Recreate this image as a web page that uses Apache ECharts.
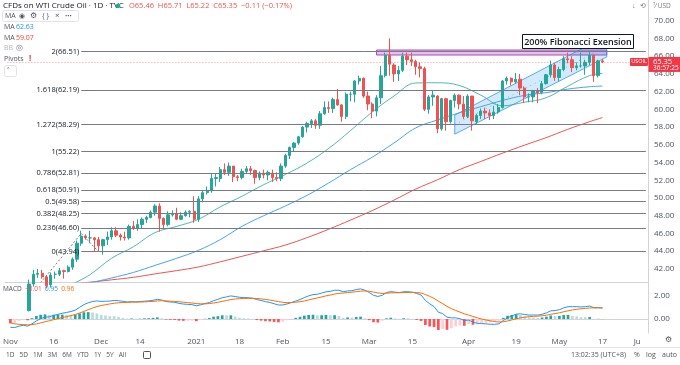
<!DOCTYPE html>
<html><head><meta charset="utf-8">
<script src="https://cdn.jsdelivr.net/npm/echarts@6/dist/echarts.min.js"></script>
<style>html,body{margin:0;padding:0;background:#fff}#c{width:680px;height:365px}</style>
</head><body><div id="c"></div><script>
// ---------- data ----------
const startDate = '2020-11-02';
const noBarDays = ['2020-12-25','2021-01-01','2021-04-02'];
const totalSlots = 148;
// [open, high, low, close]
const ohlc = [
[35.6,37.3,33.6,36.8],[36.9,38.2,36.5,37.7],[37.7,39.8,37.3,39.2],[39.0,39.1,38.0,38.8],[38.7,38.8,36.9,37.1],
[37.3,40.8,37.2,40.3],[40.3,41.9,40.0,41.4],[41.4,42.0,41.0,41.5],[41.5,41.9,40.9,41.1],[41.1,41.3,39.8,40.1],
[40.2,41.6,39.9,41.3],[41.4,41.7,40.9,41.4],[41.4,42.1,41.2,41.8],[41.8,41.9,40.9,41.7],[41.7,42.4,41.6,42.2],
[42.2,43.3,41.9,43.1],[43.1,45.2,42.8,44.9],[44.9,46.3,44.6,45.7],[45.7,45.9,45.3,45.5],[45.5,46.3,44.9,45.5],
[45.5,45.6,43.9,45.3],[45.3,45.6,43.9,44.6],[44.6,45.4,43.6,45.3],[45.3,46.2,44.7,45.6],[45.6,46.7,45.3,46.3],
[46.3,46.7,45.6,45.8],[45.8,46.0,45.2,45.6],[45.6,46.2,45.2,45.5],[45.5,47.0,45.3,46.8],[46.8,47.4,46.4,46.6],
[46.6,47.6,46.3,47.0],[47.0,47.8,46.6,47.6],[47.6,48.0,47.2,47.8],[47.8,48.6,47.7,48.4],[48.4,49.3,48.0,49.1],
[49.1,49.4,46.2,47.7],[47.7,47.8,46.6,47.0],[47.0,48.5,46.8,48.1],[48.1,48.6,47.9,48.2],
[48.2,48.9,47.5,47.6],[47.6,48.4,47.5,48.0],[48.0,48.6,47.9,48.4],[48.4,48.6,47.8,48.5],
[48.5,50.2,47.2,47.6],[47.6,50.2,47.3,49.9],[49.9,50.9,49.5,50.6],[50.6,51.3,50.4,50.8],[50.8,52.7,50.6,52.2],
[52.2,52.7,51.3,52.3],[52.2,53.5,51.8,53.2],[53.2,53.9,52.6,52.9],[52.9,54.0,52.5,53.6],[53.6,53.6,51.8,52.4],
[52.4,52.6,51.9,52.3],[52.3,53.3,52.1,53.0],[53.0,53.6,52.7,53.3],[53.3,53.6,52.6,53.1],[53.1,53.2,51.6,52.3],
[52.3,53.0,52.0,52.8],[52.8,53.2,52.2,52.6],[52.6,53.1,52.0,52.9],[52.8,53.2,51.8,52.3],[52.3,52.9,51.9,52.2],
[52.2,53.9,51.9,53.6],[53.6,55.0,53.4,54.8],[54.8,55.8,54.4,55.7],[55.7,56.3,55.2,56.2],[56.2,57.0,56.0,56.9],
[56.9,58.1,56.8,58.0],[58.0,58.6,57.4,58.4],[58.4,58.9,57.9,58.7],[58.7,58.9,57.8,58.2],[58.2,59.8,57.8,59.5],
[59.5,60.9,59.4,60.2],[60.2,60.9,59.6,60.1],[60.1,61.3,59.6,61.1],[61.1,62.3,60.4,60.5],[60.5,60.6,58.6,59.2],
[59.2,61.9,58.9,61.7],[61.7,62.0,60.9,61.7],[61.7,63.3,60.8,63.2],[63.2,63.8,62.8,63.5],[63.5,63.6,61.3,61.5],
[61.5,62.0,59.9,60.6],[60.6,60.8,59.0,59.8],[59.8,61.6,59.2,61.3],[61.3,64.9,60.6,63.8],[63.8,66.4,63.6,66.1],
[66.1,68.0,63.8,65.1],[65.0,65.2,63.1,64.0],[64.0,64.9,63.2,64.4],[64.4,66.4,64.2,66.0],[66.0,66.4,65.0,65.6],
[65.6,66.4,64.9,65.4],[65.4,65.6,63.9,64.8],[64.8,65.3,63.6,64.6],[64.6,64.8,59.8,60.0],[60.0,61.6,59.5,61.4],
[61.4,62.1,60.4,61.6],[61.5,61.6,57.3,57.8],[57.8,61.3,57.6,61.2],[61.2,61.3,57.6,58.6],[58.6,61.1,58.4,61.0],
[61.0,61.8,60.2,61.6],[61.6,61.7,60.0,60.6],[60.6,61.5,58.9,59.2],[59.2,61.7,59.0,61.5],
[61.5,61.5,57.6,58.7],[58.6,59.5,58.3,59.3],[59.3,60.1,58.9,59.8],[59.8,60.2,58.9,59.6],[59.6,60.0,58.8,59.3],
[59.3,60.4,58.9,59.7],[59.7,60.6,59.5,60.2],[60.2,63.3,60.1,63.2],[63.2,63.7,62.8,63.5],[63.5,63.6,62.7,63.1],
[63.1,64.1,62.9,63.4],[63.4,64.0,61.6,62.4],[62.4,62.6,60.7,61.4],[61.4,61.8,60.8,61.4],[61.4,62.2,60.8,62.1],
[62.1,62.4,60.7,61.9],[61.9,63.2,61.7,62.9],[62.9,64.0,62.8,63.9],[63.9,65.5,63.6,65.0],[65.0,65.2,63.2,63.6],
[63.6,64.8,63.2,64.5],[64.5,66.0,64.3,65.7],[65.7,66.4,65.2,65.6],[65.6,66.0,64.2,64.7],[64.7,65.3,64.4,64.9],
[64.9,66.4,64.7,64.9],[64.9,65.6,63.9,65.3],[65.3,66.5,65.0,66.1],[66.1,66.1,63.1,63.8],[63.8,65.6,63.6,65.46],
[65.46,65.71,65.22,65.35]
];
// moving averages, read at sample bars [barIndex, value]
const ma20 = [[15,40.3],[19,41.35],[24,43.2],[29,44.5],[34,46.1],[39,46.8],[44,47.6],[49,49.0],[54,50.2],[59,51.5],[64,52.65],[69,53.95],[74,55.6],[79,57.6],[84,59.7],[89,61.5],[94,62.97],[99,63.0],[104,62.7],[109,61.6],[114,60.4],[119,60.8],[124,61.3],[129,62.6],[134,63.8],[137,64.05]];
const ma50 = [[19,40.42],[24,40.98],[29,41.6],[34,42.4],[39,43.2],[44,44.1],[49,45.3],[54,46.8],[59,48.0],[64,49.1],[69,50.3],[74,51.7],[79,53.2],[84,54.6],[89,56.2],[94,57.9],[99,58.8],[104,59.6],[109,60.3],[114,61.0],[119,61.57],[124,61.88],[129,62.28],[134,62.55],[137,62.63]];
const ma100 = [[12,40.2],[19,40.5],[24,40.77],[29,41.05],[34,41.44],[39,41.81],[44,42.22],[49,42.8],[54,43.42],[59,44.05],[64,44.69],[69,45.53],[74,46.48],[79,47.51],[84,48.58],[89,49.76],[94,51.0],[99,52.05],[104,53.18],[109,54.12],[114,55.06],[119,55.95],[124,56.8],[129,57.74],[134,58.6],[137,59.07]];
const macdLine = [-0.72,-0.74,-0.62,-0.55,-0.62,-0.42,-0.17,0.03,0.16,0.19,0.31,0.40,0.50,0.57,0.65,0.77,1.01,1.25,1.41,1.52,1.57,1.53,1.54,1.56,1.61,1.59,1.54,1.48,1.51,1.49,1.51,1.55,1.58,1.63,1.71,1.65,1.52,1.48,1.45,1.36,1.30,1.27,1.25,1.15,1.23,1.34,1.43,1.59,1.71,1.85,1.92,2.01,1.95,1.89,1.86,1.85,1.81,1.69,1.61,1.51,1.44,1.33,1.22,1.22,1.31,1.43,1.56,1.69,1.86,2.01,2.12,2.15,2.25,2.36,2.40,2.50,2.50,2.37,2.44,2.46,2.56,2.62,2.50,2.31,2.06,1.96,2.06,2.30,2.38,2.33,2.30,2.37,2.37,2.33,2.22,2.09,1.61,1.32,1.08,0.59,0.47,0.16,0.10,0.10,0.03,-0.14,-0.09,-0.28,-0.37,-0.40,-0.42,-0.46,-0.46,-0.42,-0.14,0.11,0.27,0.42,0.45,0.39,0.34,0.35,0.34,0.41,0.53,0.71,0.73,0.81,0.97,1.07,1.07,1.07,1.05,1.07,1.13,0.98,0.99,0.95];
const signalLine = [-0.34,-0.42,-0.46,-0.48,-0.51,-0.49,-0.43,-0.34,-0.24,-0.15,-0.06,0.03,0.12,0.21,0.30,0.39,0.52,0.66,0.81,0.95,1.08,1.17,1.24,1.31,1.37,1.41,1.44,1.45,1.46,1.47,1.48,1.49,1.51,1.53,1.57,1.59,1.57,1.55,1.53,1.50,1.46,1.42,1.39,1.34,1.32,1.32,1.34,1.39,1.46,1.53,1.61,1.69,1.74,1.77,1.79,1.80,1.80,1.78,1.75,1.70,1.65,1.58,1.51,1.45,1.42,1.43,1.46,1.50,1.57,1.66,1.75,1.83,1.92,2.01,2.08,2.17,2.23,2.26,2.30,2.33,2.38,2.42,2.44,2.41,2.34,2.27,2.22,2.24,2.27,2.28,2.28,2.30,2.31,2.32,2.30,2.26,2.13,1.97,1.79,1.55,1.34,1.10,0.90,0.74,0.60,0.45,0.34,0.22,0.10,0.00,-0.08,-0.16,-0.22,-0.26,-0.24,-0.17,-0.08,0.02,0.10,0.16,0.20,0.23,0.25,0.28,0.33,0.41,0.47,0.54,0.63,0.71,0.79,0.84,0.89,0.92,0.96,0.97,0.97,0.96];
const histValues = [-0.38,-0.32,-0.16,-0.07,-0.11,0.07,0.26,0.37,0.40,0.34,0.37,0.37,0.38,0.36,0.35,0.38,0.49,0.59,0.60,0.57,0.49,0.36,0.30,0.25,0.24,0.18,0.10,0.03,0.05,0.02,0.03,0.06,0.07,0.10,0.14,0.06,-0.05,-0.07,-0.08,-0.14,-0.16,-0.15,-0.14,-0.19,-0.09,0.02,0.09,0.20,0.25,0.32,0.31,0.32,0.21,0.12,0.07,0.05,0.01,-0.09,-0.14,-0.19,-0.21,-0.25,-0.29,-0.23,-0.11,0.00,0.10,0.19,0.29,0.35,0.37,0.32,0.33,0.35,0.32,0.33,0.27,0.11,0.14,0.13,0.18,0.20,0.06,-0.10,-0.28,-0.31,-0.16,0.06,0.11,0.05,0.02,0.07,0.06,0.01,-0.08,-0.17,-0.52,-0.65,-0.71,-0.96,-0.87,-0.94,-0.80,-0.64,-0.57,-0.59,-0.43,-0.50,-0.47,-0.40,-0.34,-0.30,-0.24,-0.16,0.10,0.28,0.35,0.40,0.35,0.23,0.14,0.12,0.09,0.13,0.20,0.30,0.26,0.27,0.34,0.36,0.28,0.23,0.16,0.15,0.17,0.01,0.02,-0.01];
const fibLevels = [66.51,62.19,58.29,55.22,52.81,50.91,49.58,48.25,46.60,43.94];
const fibLabels = ['2(66.51)','1.618(62.19)','1.272(58.29)','1(55.22)','0.786(52.81)','0.618(50.91)','0.5(49.58)','0.382(48.25)','0.236(46.60)','0(43.94)'];
const fibPath = [[0,35.9],[17,46.0],[21,43.94]];
const resistanceZone = [[85,66.69],[138,66.13]];
const channel = [[103,59.35],[138,68.3],[138,65.9],[103,57.2]];
const priceTicks = [42,44,46,48,50,52,54,56,58,60,62,64,66,68,70];
const macdTicks = [0,2];
const xTickIdx = [0,10,21,30,43,53,63,73,83,93,106,117,127,137,145];
const xTickText = ['Nov','16','Dec','14','2021','18','Feb','15','Mar','15','Apr','19','May','17','Ju'];
const lastClose = 65.35;

// ---------- build ----------
const dates = [];
(function(){
  const d = new Date(startDate + 'T00:00:00Z');
  while (dates.length < totalSlots) {
    const wd = d.getUTCDay();
    const s = d.toISOString().slice(0,10);
    if (wd !== 0 && wd !== 6 && noBarDays.indexOf(s) < 0) dates.push(s);
    d.setUTCDate(d.getUTCDate() + 1);
  }
})();
const candleData = ohlc.map(r => [r[0], r[3], r[2], r[1]]);
const histData = histValues.map((v, i) => {
  const p = i > 0 ? histValues[i-1] : v;
  let c;
  if (v >= 0) c = v >= p ? '#26a69a' : '#b2dfdb';
  else c = v <= p ? '#ff5252' : '#ffcdd2';
  return {value: v, itemStyle: {color: c}};
});
const FONT = '"Open Sans", "Noto Sans", sans-serif';
const fibMarks = fibLevels.map((v, k) => [
  {xAxis: 17, yAxis: v, label: {formatter: fibLabels[k]}},
  {xAxis: totalSlots - 1, yAxis: v}
]);

const chart = echarts.init(document.getElementById('c'), null, {renderer: 'canvas'});
const option = {
  animation: false,
  backgroundColor: '#ffffff',
  grid: [
    {left: 5.23, width: 642.77, top: 0, height: 282},
    {left: 5.23, width: 642.77, top: 283, height: 50}
  ],
  xAxis: [
    {type: 'category', data: dates, gridIndex: 0, axisLabel: {show: false}, axisTick: {show: false},
     axisLine: {show: true, lineStyle: {color: '#d1d4dc'}}, splitLine: {show: false}},
    {type: 'category', data: dates, gridIndex: 1, axisTick: {show: false},
     axisLine: {show: true, lineStyle: {color: '#d1d4dc'}},
     axisLabel: {interval: (i) => xTickIdx.indexOf(i) >= 0,
       formatter: (v, i) => { const k = xTickIdx.indexOf(i); return k >= 0 ? xTickText[k] : ''; },
       color: '#50535e', fontSize: 8, fontFamily: FONT, margin: 5}}
  ],
  yAxis: [
    {type: 'value', gridIndex: 0, position: 'right', min: 40.524, max: 72.335, scale: true,
     axisLine: {show: true, lineStyle: {color: '#d1d4dc'}}, axisTick: {show: false}, splitLine: {show: false},
     axisLabel: {customValues: priceTicks, formatter: (v) => v.toFixed(2), color: '#50535e', fontSize: 8, fontFamily: FONT, margin: 6}},
    {type: 'value', gridIndex: 1, position: 'right', min: -1.217, max: 3.13,
     axisLine: {show: true, lineStyle: {color: '#d1d4dc'}}, axisTick: {show: false}, splitLine: {show: false},
     axisLabel: {customValues: macdTicks, formatter: (v) => v.toFixed(2), color: '#50535e', fontSize: 8, fontFamily: FONT, margin: 6}}
  ],
  series: [
    {type: 'custom', xAxisIndex: 0, yAxisIndex: 0, data: [0], z: 1,
     renderItem: (params, api) => ({
       type: 'group', children: [
         {type: 'polygon', shape: {points: channel.map(p => api.coord(p))},
          style: {fill: 'rgba(33,150,243,0.20)', stroke: 'rgba(33,150,243,0.75)', lineWidth: 1}},
         {type: 'line', shape: {x1: api.coord([channel[0][0], (channel[0][1]+channel[3][1])/2])[0],
           y1: api.coord([channel[0][0], (channel[0][1]+channel[3][1])/2])[1],
           x2: api.coord([channel[1][0], (channel[1][1]+channel[2][1])/2])[0],
           y2: api.coord([channel[1][0], (channel[1][1]+channel[2][1])/2])[1]},
          style: {stroke: 'rgba(33,150,243,0.6)', lineWidth: 1, lineDash: [1,4]}}
       ]
     })},
    {type: 'line', xAxisIndex: 0, yAxisIndex: 0, data: fibPath, symbol: 'none', z: 2,
     lineStyle: {color: '#787b86', width: 1, type: [2,2]}},
    {type: 'line', xAxisIndex: 0, yAxisIndex: 0, data: ma100, symbol: 'none', smooth: 0.4, z: 3,
     lineStyle: {color: '#ef5350', width: 1}},
    {type: 'line', xAxisIndex: 0, yAxisIndex: 0, data: ma50, symbol: 'none', smooth: 0.4, z: 3,
     lineStyle: {color: '#42a5f5', width: 1}},
    {type: 'line', xAxisIndex: 0, yAxisIndex: 0, data: ma20, symbol: 'none', smooth: 0.4, z: 3,
     lineStyle: {color: '#26a69a', width: 0.8}},
    {type: 'candlestick', xAxisIndex: 0, yAxisIndex: 0, data: candleData, barWidth: '64%', z: 4,
     itemStyle: {color: '#26a69a', color0: '#ef5350', borderColor: '#26a69a', borderColor0: '#ef5350', borderWidth: 1},
     markLine: {silent: true, symbol: ['none','none'], animation: false,
       lineStyle: {color: '#787b86', width: 1, type: 'solid'},
       label: {position: 'start', color: '#131722', fontSize: 7.5, fontFamily: FONT, distance: 2},
       data: fibMarks.concat([[{xAxis: 0, yAxis: lastClose, lineStyle: {color: '#ef5350', type: [1,2], width: 1, opacity: 0.6}, label: {show: false}},
                              {xAxis: totalSlots - 1, yAxis: lastClose}]])},
     markArea: {silent: true, itemStyle: {color: 'rgba(156,39,176,0.28)', borderColor: '#ab47bc', borderWidth: 1},
       data: [[{xAxis: resistanceZone[0][0], yAxis: resistanceZone[0][1]}, {xAxis: resistanceZone[1][0], yAxis: resistanceZone[1][1]}]]}},
    {type: 'bar', xAxisIndex: 1, yAxisIndex: 1, data: histData, barWidth: '62%'},
    {type: 'line', xAxisIndex: 1, yAxisIndex: 1, data: macdLine, symbol: 'none', lineStyle: {color: '#2196f3', width: 1}},
    {type: 'line', xAxisIndex: 1, yAxisIndex: 1, data: signalLine, symbol: 'none', lineStyle: {color: '#ff6d00', width: 1}}
  ]
};
chart.setOption(option);

// ---------- annotations ----------
const yLast = chart.convertToPixel({yAxisIndex: 0}, lastClose);
function T(x, y, text, fill, size, extra) {
  return Object.assign({type: 'text', z: 100, style: Object.assign({x: x, y: y, text: text, fill: fill,
    fontSize: size || 8, fontFamily: FONT, textVerticalAlign: 'middle'}, extra || {})});
}
const g = [];
g.push(T(3, 6, 'CFDs on WTI Crude Oil · 1D · TVC', '#131722', 8));
g.push({type: 'circle', z: 100, shape: {cx: 118, cy: 6, r: 2.3}, style: {fill: '#26a69a'}});
g.push(T(129, 6, 'O65.46  H65.71  L65.22  C65.35  −0.11 (−0.17%)', '#ef5350', 7.5));
g.push({type: 'rect', z: 100, shape: {x: 2.5, y: 10.5, width: 76, height: 11, r: 2}, style: {fill: '#fff', stroke: '#e0e3eb'}});
g.push(T(5, 16, 'MA', '#50535e', 7));
g.push(T(19, 16, '◉', '#50535e', 7));
g.push(T(30, 16, '⚙', '#50535e', 7.5));
g.push(T(42, 16, '{ }', '#50535e', 7));
g.push(T(55, 16, '×', '#50535e', 8));
g.push(T(65, 16, '•••', '#50535e', 6));
g.push(T(4, 27, 'MA', '#50535e', 7));
g.push(T(16, 27, '62.63', '#2196f3', 7));
g.push(T(4, 38, 'MA', '#50535e', 7));
g.push(T(16, 38, '59.07', '#f44336', 7));
g.push(T(4, 48, 'BB', '#b2b5be', 7));
g.push(T(16, 48, '◎', '#787b86', 7.5));
g.push(T(4, 59, 'Pivots', '#50535e', 7));
g.push(T(29, 59, '!', '#f23645', 8, {fontWeight: 'bold'}));
g.push({type: 'rect', z: 100, shape: {x: 4.5, y: 65.5, width: 12, height: 11, r: 2}, style: {fill: '#fff', stroke: '#e0e3eb'}});
g.push(T(7, 71, '˄', '#50535e', 9));
// MACD legend (rich text so spacing follows the glyphs)
g.push({type: 'text', z: 100, style: {x: 3, y: 289, textVerticalAlign: 'middle', fontFamily: FONT, fontSize: 6.5,
  text: '{a|MACD}  {b|−0.01}  {c|0.95}  {d|0.96}',
  rich: {a: {fill: '#50535e', fontSize: 6.5, fontFamily: FONT}, b: {fill: '#ef5350', fontSize: 6.5, fontFamily: FONT},
         c: {fill: '#2196f3', fontSize: 6.5, fontFamily: FONT}, d: {fill: '#ff6d00', fontSize: 6.5, fontFamily: FONT}}}});
// annotation box
g.push({type: 'rect', z: 100, shape: {x: 522.5, y: 34.5, width: 111, height: 14}, style: {fill: '#ffffff', stroke: '#131722', lineWidth: 1}});
g.push(T(578, 42, '200% Fibonacci Exension', '#131722', 9, {textAlign: 'center', fontWeight: 600}));
// top right
g.push(T(632, 6, '↓', '#787b86', 7));
g.push(T(640, 6, '⟲', '#787b86', 7));
g.push(T(653, 6, '⁷⁄ USD', '#787b86', 6.5));
// last price tags
g.push({type: 'rect', z: 100, shape: {x: 630, y: yLast - 4, width: 18, height: 8, r: 1}, style: {fill: '#f23645'}});
g.push(T(639, yLast, 'USOIL', '#ffffff', 5.5, {textAlign: 'center'}));
g.push({type: 'rect', z: 100, shape: {x: 648.5, y: yLast - 5, width: 31.5, height: 15}, style: {fill: '#f23645'}});
g.push(T(653, yLast - 0.5, '65.35', '#ffffff', 7.5));
g.push(T(653, yLast + 6, '36:57:25', '#ffffff', 6.5));
// bottom toolbar
g.push(T(6, 355, '1D   5D   1M   3M   6M   YTD   1Y   5Y   All', '#50535e', 6.5));
g.push({type: 'rect', z: 100, shape: {x: 143.5, y: 351.5, width: 7, height: 7, r: 1}, style: {fill: 'none', stroke: '#50535e'}});
g.push(T(571, 355, '13:02:35 (UTC+8)', '#50535e', 7));
g.push(T(634, 355, '%', '#50535e', 7));
g.push(T(646, 355, 'log', '#50535e', 7));
g.push(T(662, 355, 'auto', '#50535e', 7));
g.push(T(665, 340, '⚙', '#50535e', 8));
g.push({type: 'line', z: 100, shape: {x1: 0, y1: 347.5, x2: 680, y2: 347.5}, style: {stroke: '#e0e3eb'}});
chart.setOption({graphic: g});
</script></body></html>
